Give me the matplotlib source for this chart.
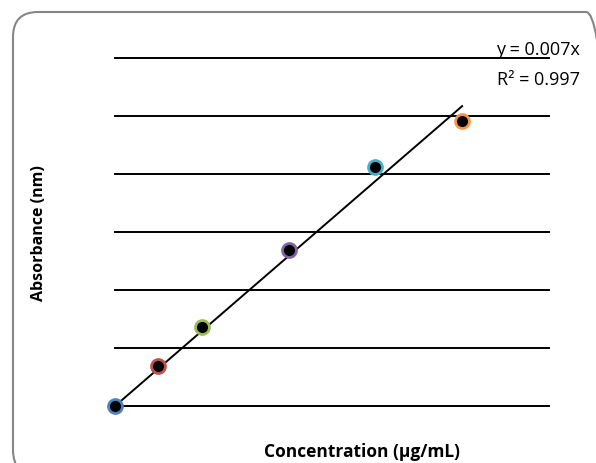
import numpy as np
import matplotlib
matplotlib.use('Agg')
import matplotlib.pyplot as plt
from matplotlib.patches import FancyBboxPatch

# calibration data
conc = [0, 5, 10, 20, 30, 40]
absorb = [0.0, 0.0345, 0.0681, 0.1345, 0.206, 0.2457]
edge_colors = ['#4f81bd', '#c0504d', '#9bbb59', '#8064a2', '#4bacc6', '#f79646']
eq_text = 'y = 0.007x'
r2_text = 'R² = 0.997'

plt.rcParams['font.family'] = ['Open Sans', 'DejaVu Sans']

fig = plt.figure(figsize=(5.96, 4.64), dpi=100)

# rounded chart border (runs off the right/bottom edge like the original)
border = FancyBboxPatch((0.13, -0.12), 5.98, 4.63,
                        boxstyle='round,pad=0,rounding_size=0.25',
                        transform=fig.dpi_scale_trans,
                        facecolor='none', edgecolor='#868686', linewidth=1.5,
                        zorder=-1)
fig.patches.append(border)

ax = fig.add_axes([0.193, 0.1228, 0.728, 0.750])
ax.set_facecolor('none')
ax.set_xlim(0, 50)
ax.set_ylim(0, 0.3)

# horizontal gridlines
for yv in np.arange(0, 0.301, 0.05):
    ax.axhline(yv, color='black', linewidth=1.4, zorder=1, clip_on=False)

# trendline through origin
x = np.array(conc)
y = np.array(absorb)
slope = np.sum(x * y) / np.sum(x * x)
tx = np.array([0, 40])
ax.plot(tx, slope * tx, color='black', linewidth=1.4, zorder=2, clip_on=False)

for xi, yi, c in zip(conc, absorb, edge_colors):
    ax.plot(xi, yi, 'o', markersize=10, markerfacecolor='black',
            markeredgecolor=c, markeredgewidth=2, zorder=3, clip_on=False)

for s in ax.spines.values():
    s.set_visible(False)
ax.set_xticks([])
ax.set_yticks([])

ax.set_xlabel('Concentration (µg/mL)', fontsize=12.5, fontweight='bold', va='center')
ax.set_ylabel('Absorbance (nm)', fontsize=11.5, fontweight='bold', va='center')
ax.xaxis.set_label_coords(0.569, -0.13)
ax.yaxis.set_label_coords(-0.176, 0.5)

fig.text(580 / 596, 1 - 50 / 464, eq_text, ha='right', va='center', fontsize=13)
fig.text(580 / 596, 1 - 80 / 464, r2_text, ha='right', va='center', fontsize=13)

fig.savefig('out.png', dpi=100)
